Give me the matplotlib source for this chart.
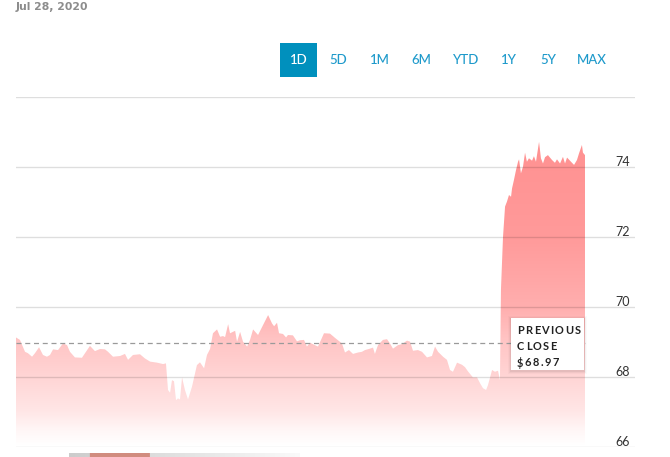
import numpy as np
import matplotlib
matplotlib.use("Agg")
import matplotlib.pyplot as plt
from matplotlib.patches import Rectangle

# ---------------- data ----------------
date_label = "Jul 28, 2020"
range_buttons = ["1D", "5D", "1M", "6M", "YTD", "1Y", "5Y", "MAX"]
active_button = "1D"
y_tick_values = [66, 68, 70, 72, 74]
grid_levels = [66, 68, 70, 72, 74, 76]
previous_close = 68.97
close_label_lines = ["PREVIOUS", "CLOSE", "$68.97"]

# minutes since market open (9:30) and price
minutes = [0, 2.7, 6.2, 8.2, 11.0, 13.0, 15.8, 18.5, 21.2, 23.3, 25.4, 28.8,
           32.2, 35.0, 37.0, 40.4, 45.2, 47.3, 50.7, 54.1, 57.6, 61.0, 63.1,
           66.5, 71.3, 74.7, 76.8, 80.2, 85.0, 88.4, 91.9, 96.7, 100.8, 102.8,
           104.2, 105.6, 106.9, 108.3, 109.7, 111.0, 112.4, 113.8, 115.8, 117.9,
           120.6, 124.0, 126.1, 128.9, 130.9, 133.0, 135.0, 137.8, 139.9, 141.9,
           143.3, 145.4, 146.7, 150.2, 151.5, 153.6, 155.6, 158.4, 160.4, 162.5,
           165.9, 169.4, 172.8, 175.5, 176.9, 178.9, 180.3, 183.0, 185.1, 186.4,
           189.8, 192.6, 194.6, 197.4, 199.4, 201.5, 204.9, 207.0, 211.1, 215.2,
           218.6, 220.7, 223.4, 225.5, 228.2, 231.0, 234.4, 237.1, 239.2, 242.6,
           244.7, 246.0, 248.1, 251.5, 254.3, 256.3, 258.4, 261.8, 264.6, 268.0,
           270.1, 272.1, 275.5, 278.3, 281.7, 285.1, 287.2, 289.3, 292.7, 295.4,
           297.5, 299.5, 302.3, 305.7, 307.8, 309.8, 313.2, 316.0, 318.1, 320.1,
           322.2, 323.5, 326.3, 328.3, 330.4, 331.7, 332.4, 333.8, 335.2, 336.5,
           337.9, 339.3, 340.0, 341.3, 342.7, 344.1, 344.8, 346.1, 347.5, 348.9,
           350.2, 351.6, 353.7, 355.0, 356.4, 357.1, 358.5, 359.8, 361.2, 362.6,
           364.6, 367.4, 369.4, 370.8, 372.9, 374.9, 376.3, 377.7, 380.4, 382.5,
           384.5, 385.9, 387.9, 388.6, 390.0]
prices = [69.13, 69.06, 68.72, 68.68, 68.58, 68.68, 68.85, 68.63, 68.58, 68.63,
          68.79, 68.77, 68.96, 68.91, 68.72, 68.56, 68.55, 68.68, 68.89, 68.74,
          68.80, 68.79, 68.72, 68.58, 68.60, 68.66, 68.49, 68.63, 68.65, 68.53,
          68.44, 68.41, 68.37, 68.39, 67.63, 67.55, 67.91, 67.88, 67.34, 67.39,
          67.36, 67.99, 67.63, 67.36, 67.72, 68.34, 68.42, 68.25, 68.63, 68.80,
          69.25, 69.36, 69.15, 69.17, 69.14, 69.51, 69.25, 69.32, 69.01, 69.29,
          69.01, 68.87, 69.06, 69.36, 69.20, 69.49, 69.77, 69.53, 69.45, 69.55,
          69.25, 69.23, 69.13, 69.20, 69.19, 69.02, 69.05, 69.06, 68.87, 68.98,
          68.91, 68.87, 69.25, 69.24, 69.12, 69.05, 68.96, 68.70, 68.77, 68.66,
          68.70, 68.72, 68.77, 68.81, 68.84, 68.66, 68.91, 69.06, 69.08, 68.96,
          68.81, 68.91, 68.94, 69.04, 69.01, 68.75, 68.77, 68.72, 68.56, 68.60,
          68.87, 68.72, 68.58, 68.49, 68.20, 68.15, 68.41, 68.35, 68.28, 68.16,
          67.99, 67.99, 67.82, 67.68, 67.63, 67.77, 68.20, 68.15, 68.18, 67.91,
          70.50, 72.00, 72.87, 73.01, 73.20, 73.15, 73.39, 73.63, 73.91, 74.15,
          74.22, 73.82, 74.01, 74.41, 74.15, 74.25, 74.18, 74.31, 74.15, 74.34,
          74.72, 74.25, 74.10, 74.28, 74.34, 74.20, 74.12, 74.22, 74.10, 74.29,
          74.10, 74.27, 74.15, 74.06, 74.20, 74.39, 74.63, 74.41, 74.34]

# gradient opacity by price level
grad_levels = [66.0, 66.5, 67.0, 68.0, 69.0, 70.0, 72.0, 76.0]
grad_alpha = [0.0, 0.04, 0.10, 0.17, 0.23, 0.32, 0.40, 0.45]

# ---------------- figure ----------------
W, H = 670, 457
fig = plt.figure(figsize=(W / 100, H / 100), dpi=100)
fig.patch.set_facecolor("white")

def fx(px):
    return px / W

def fy(py):
    return 1 - py / H

ax_left, ax_right, ax_top, ax_bottom = 16, 635, 97, 447
data_right_px = 585
ax = fig.add_axes([fx(ax_left), fy(ax_bottom), (ax_right - ax_left) / W,
                   (ax_bottom - ax_top) / H])
t_end = minutes[-1]
ax.axis("off")

t = np.array(minutes)
p = np.array(prices)

# gradient fill clipped to the area
poly = ax.fill_between(t, 66, p, facecolor="none", edgecolor="none", zorder=1)
lv = np.linspace(66, 76, 500)
al = np.interp(lv, grad_levels, grad_alpha)
rgba = np.zeros((500, 1, 4))
rgba[..., 0] = 1.0
rgba[..., 1] = 0.0
rgba[..., 2] = 0.0
rgba[..., 3] = al[:, None]
im = ax.imshow(rgba, origin="lower", aspect="auto", extent=[0, t_end, 66, 76],
               interpolation="bilinear", zorder=1)
im.set_clip_path(poly.get_paths()[0], transform=ax.transData)

# grid lines
for g in grid_levels:
    ax.axhline(g, color=(0, 0, 0, 0.13), lw=1.0, zorder=2)

# previous close dashed line
ax.plot([0, t_end], [previous_close, previous_close], color="#9a9a9a",
        lw=0.9, ls=(0, (4, 3)), zorder=3)

ax.set_xlim(0, t_end * (ax_right - ax_left) / (data_right_px - ax_left))
ax.set_ylim(66, 76)

# y tick labels (right side, above grid lines)
for v in y_tick_values:
    ypx = ax_bottom - (v - 66) * (ax_bottom - ax_top) / 10
    fig.text(fx(630), fy(ypx - 1.5), str(v), ha="right", va="baseline",
             fontsize=9, color="#333333", family="Lato")

# date label
fig.text(fx(16), fy(7.5), date_label, ha="left", va="center", fontsize=7.8,
         fontweight="bold", color="#8c8c8c", family="DejaVu Sans")

# range buttons
btn_centers = [298.5, 338, 380, 421, 466, 509, 548, 592]
for lab, cx in zip(range_buttons, btn_centers):
    if lab == active_button:
        fig.patches.append(Rectangle((fx(280), fy(77)), 37 / W, 34 / H,
                                     transform=fig.transFigure,
                                     facecolor="#0090bd", edgecolor="none"))
        col = "white"
    else:
        col = "#1f9acb"
    fig.text(fx(cx), fy(60.5), lab, ha="center", va="center", fontsize=9.5,
             color=col, family="Lato", fontweight="medium")

# previous close box with shadow
bx0, by0, bx1, by1 = 511, 318, 584, 370
for i, a in enumerate([0.05, 0.035, 0.02]):
    d = i + 1
    fig.patches.append(Rectangle((fx(bx0 - d), fy(by1 + d + 1)), (bx1 - bx0 + 2 * d) / W,
                                 (by1 - by0 + 2 * d) / H, transform=fig.transFigure,
                                 facecolor=(0, 0, 0, a), edgecolor="none", zorder=5))
fig.patches.append(Rectangle((fx(bx0), fy(by1)), (bx1 - bx0) / W, (by1 - by0) / H,
                             transform=fig.transFigure, facecolor="white",
                             edgecolor="none", zorder=6))

fig.canvas.draw()
renderer = fig.canvas.get_renderer()

def spaced_text(x_px, y_px, s, size, spacing):
    x = x_px
    for ch in s:
        tt = fig.text(fx(x), fy(y_px), ch, ha="left", va="center", fontsize=size,
                      color="#222222", family="Lato", fontweight="bold", zorder=7)
        w = tt.get_window_extent(renderer).width
        x += w + spacing

line_y = [331, 347, 363]
for s, yy in zip(close_label_lines, line_y):
    spaced_text(517, yy, s, 7.9, 1.4)

# cropped thumbnail strip at bottom edge
strip = fig.add_axes([fx(69), 0, 231 / W, 4 / H])
sg = np.linspace(0, 1, 200)
srgb = np.ones((1, 200, 3))
srgb[0, :, 0] = 0.80 + 0.18 * sg
srgb[0, :, 1] = 0.80 + 0.18 * sg
srgb[0, :, 2] = 0.80 + 0.18 * sg
red_zone = (sg > 0.09) & (sg < 0.35)
srgb[0, red_zone, 0] = 0.82
srgb[0, red_zone, 1] = 0.55
srgb[0, red_zone, 2] = 0.5
strip.imshow(srgb, aspect="auto")
strip.axis("off")

fig.savefig("out.png", dpi=100, facecolor="white")
